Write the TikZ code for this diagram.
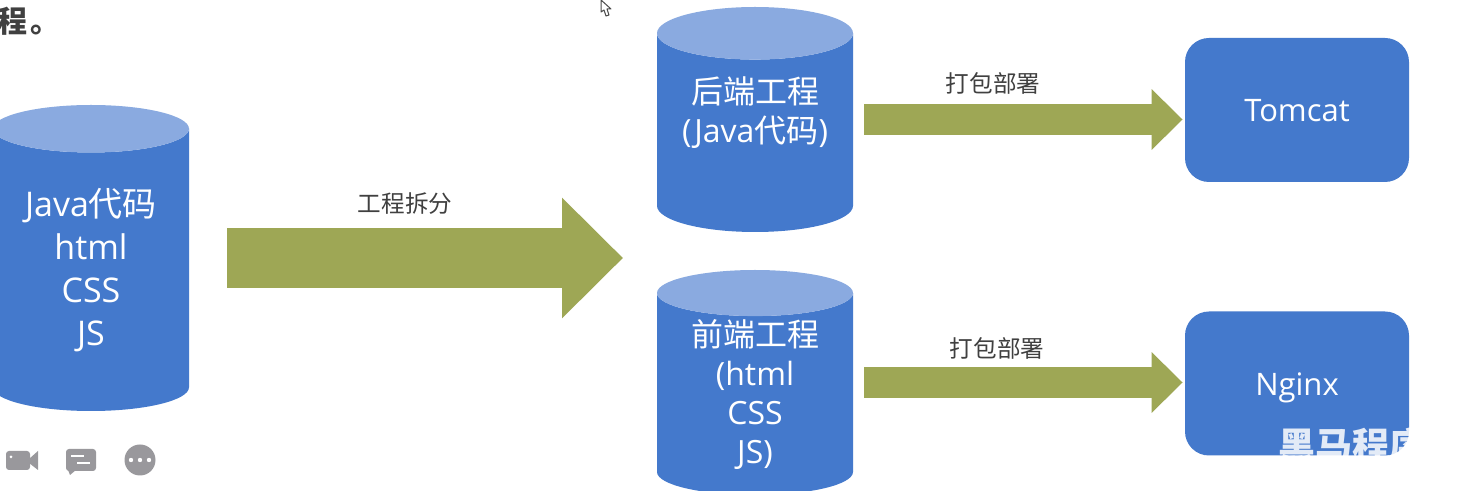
\documentclass[tikz,border=0pt]{standalone}
\usepackage{fontspec}
\setmainfont{Open Sans}
\newfontfamily\cjk{Noto Sans CJK SC}
\usetikzlibrary{shapes.geometric, arrows.meta}
\definecolor{boxblue}{HTML}{4479CC}
\definecolor{topblue}{HTML}{8AAAE0}
\definecolor{olive}{HTML}{9EA755}
\definecolor{icongray}{HTML}{99989C}
\tikzset{
dbstack/.style={cylinder, shape border rotate=90, shape aspect=0.36, draw=none, % upright drum
    cylinder uses custom fill, cylinder body fill=boxblue, cylinder end fill=topblue,
    minimum width=98pt, text=white, align=center, inner sep=0pt, anchor=shape center},
bigstack/.style={dbstack, font=\fontsize{17}{21.5}\selectfont, minimum height=153pt},
smallstack/.style={dbstack, font=\fontsize{16}{19.5}\selectfont, minimum height=112.5pt},
server/.style={rectangle, rounded corners=12pt, fill=boxblue, text=white,
    minimum width=112pt, minimum height=72pt, text height=14pt, text depth=2pt,
    font=\fontsize{15.5}{18}\selectfont},
bigmove/.style={olive, line width=30pt, -{Triangle[length=30.5pt, width=58.5pt]}},
smallmove/.style={olive, line width=15.5pt, -{Triangle[length=15.5pt, width=29.5pt]}},
caption/.style={font=\cjk\fontsize{11.8}{14}\selectfont, text=black!75},
}
\newcommand{\zh}[1]{{\cjk #1}}
\begin{document}
\begin{tikzpicture}[x=0.5pt, y=-0.5pt]
    \useasboundingbox (0,0) rectangle (1474,491);
    \fill[white] (0,0) rectangle (1474,491);

    \node[bigstack] (source) at (91,258) {Java\zh{代码}\\html\\CSS\\JS};
    \node[smallstack] (backend) at (755,119.5) {\zh{后端工程}\\(Java\zh{代码})\\[4pt]~};
    \node[smallstack] (frontend) at (755,382.5) {\zh{前端工程}\\(html\\CSS\\JS)};
    \node[server] (tomcat) at (1297,110) {Tomcat};
    \node[server] (nginx) at (1297,383.5) {Nginx};
    \coordinate (split) at (623,258);

    % block arrows
    \draw[bigmove, shorten <=68pt] (source.shape center) -- (split);
    \draw[smallmove, shorten <=54.5pt, shorten >=1pt] (backend.shape center) -- (backend.shape center -| tomcat.west);
    \draw[smallmove, shorten <=54.5pt, shorten >=1pt] (frontend.shape center) -- (frontend.shape center -| nginx.west);

    \node[caption] (splitlabel) at (405,204) {工程拆分};
    \node[caption] (packback) at (993,83) {打包部署};
    \node[caption] (packfront) at (997,348) {打包部署};

    % page text and watermark
    \node[font=\cjk\bfseries\fontsize{15}{17}\selectfont, text=black!75, anchor=west, inner sep=0pt] (pagetext) at (-3,21) {程\hspace{1.5pt}。};
    \node[font=\cjk\bfseries\fontsize{18.5}{19}\selectfont, text=white, opacity=.85, anchor=west, inner sep=0pt] (mark) at (1278,445) {黑马程序员};

    % cursor
    \draw[black!70, fill=white, line width=.5pt, line join=round] (601,0) -- (601,12) -- (604,10) -- (606,16) -- (609,15) -- (607,9) -- (611,9) -- cycle;

    % toolbar icons
    \fill[icongray, rounded corners=1.5pt] (6,451) rectangle (30,470);
    \fill[icongray] (29,459) -- (38,451) -- (38,470) -- (29,463) -- cycle;
    \fill[white] (11,457) circle (1.5);
    \fill[icongray, rounded corners=1.5pt] (66,449) rectangle (96,471);
    \fill[icongray] (68,470) -- (70,475) -- (76,470) -- cycle;
    \draw[white, line width=1.2pt] (71,456) -- (84,456) (77,463) -- (90,463);
    \fill[icongray] (140,460) circle (15.5);
    \foreach \dotx in {131,140,149} {
        \fill[white] (\dotx,460) circle (2.2);
    }
\end{tikzpicture}
\end{document}
